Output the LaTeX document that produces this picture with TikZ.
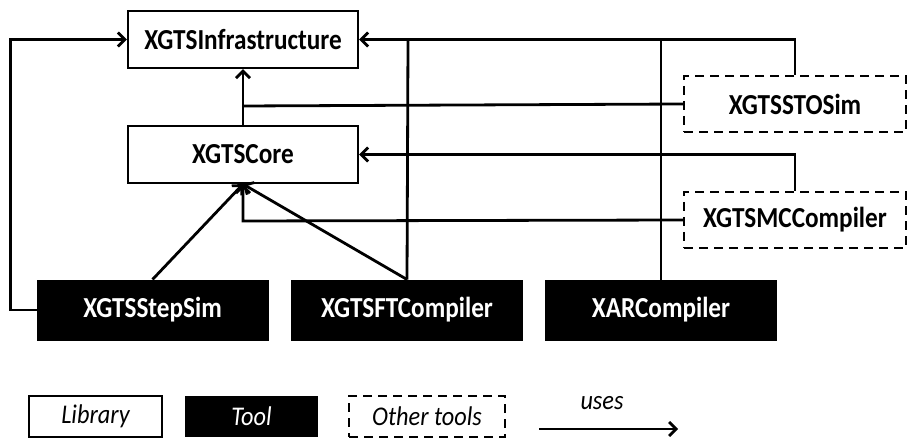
\documentclass[tikz,border=0pt]{standalone}
\usepackage{fontspec}
\setmainfont{Carlito}
\usetikzlibrary{arrows.meta}
\newcommand{\cond}[1]{\scalebox{0.87}[1]{#1}}
\newcommand{\condl}[1]{\scalebox{0.9}[1]{#1}}
\begin{document}
\begin{tikzpicture}[x=1pt,y=-1pt,
  lib/.style={draw,line width=2.2pt,fill=white,minimum width=230pt,minimum height=57pt,inner sep=0pt,font=\fontsize{29}{32}\selectfont\bfseries},
  tool/.style={draw,line width=1pt,fill=black,text=white,minimum width=231pt,minimum height=60pt,inner sep=0pt,font=\fontsize{29}{32}\selectfont\bfseries},
  other/.style={draw,line width=2.2pt,dash pattern=on 9pt off 6pt,fill=white,minimum width=222pt,minimum height=56pt,inner sep=0pt,font=\fontsize{29}{32}\selectfont\bfseries},
  leg/.style={minimum height=41pt,inner sep=0pt,font=\fontsize{27}{30}\selectfont\itshape},
  conn/.style={line width=2.8pt},
  uses/.style={line width=2.8pt,-{Straight Barb[length=7pt,width=14pt,line width=2.8pt]}}]
\useasboundingbox (0,0) rectangle (907,438);
% nodes
\node[lib] (inf) at (243,39.5) {\cond{XGTSInfrastructure}};
\node[lib] (core) at (243,154.5) {\cond{XGTSCore}};
\node[other] (sto) at (795,104) {\cond{XGTSSTOSim}};
\node[other] (mc) at (795,220) {\cond{XGTSMCCompiler}};
\node[tool] (step) at (152.5,310) {\cond{XGTSStepSim}};
\node[tool] (ft) at (407,310) {\cond{XGTSFTCompiler}};
\node[tool] (xar) at (661,310) {\cond{XARCompiler}};
% connectors
\coordinate (j1) at (243,106);
\coordinate (j2) at (243,221);
\coordinate (tft) at (408,41);
\coordinate (txar) at (661,41);
\draw[uses] (core.north) -- (inf.south);
\draw[conn] (sto.west) -- (j1);
\draw[uses] (sto.north) |- (inf.east);
\draw[conn] (ft.north) -- (tft);
\draw[conn] (xar.north) -- (txar);
\draw[uses] (mc.north) |- (core.east);
\draw[uses] (mc.west) -- (j2) -- (core.south);
\draw[uses] (step.north) -- (core.south);
\draw[uses] (ft.north) -- (core.south);
\draw[uses] (step.west) -- ++(-26,0) |- (inf.west);
% legend
\node[leg,draw,line width=2.2pt,minimum width=133pt] (llib) at (95.5,416.5) {\condl{Library}};
\node[leg,fill=black,text=white,minimum width=133pt] (ltool) at (251.5,416.5) {\condl{Tool}};
\node[leg,draw,line width=2.2pt,dash pattern=on 9pt off 6pt,minimum width=156pt] (lother) at (427,416.5) {\condl{Other tools}};
\coordinate (la) at (539,429);
\coordinate (lb) at (678,429);
\draw[uses] (la) -- (lb);
\node[font=\fontsize{27}{30}\selectfont\itshape] (luses) at (602,403) {\condl{uses}};
\end{tikzpicture}
\end{document}
